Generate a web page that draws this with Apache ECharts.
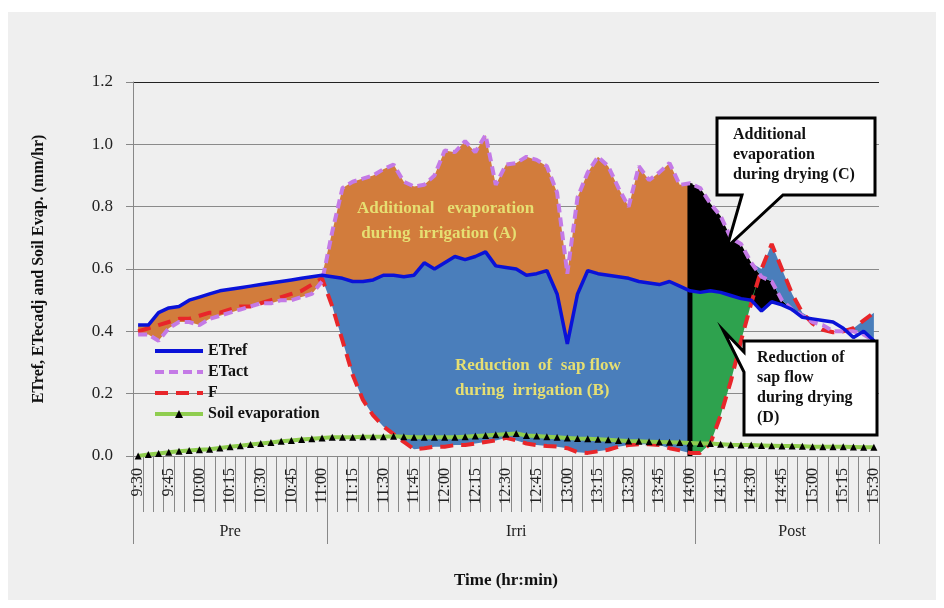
<!DOCTYPE html>
<html>
<head>
<meta charset="utf-8">
<script src="https://cdn.jsdelivr.net/npm/echarts@6/dist/echarts.min.js"></script>
<style>
  body { margin: 0; background: #ffffff; }
  #bg { position: absolute; left: 8px; top: 12px; width: 928px; height: 588px; background: #efefef; }
  #chart { position: absolute; left: 0; top: 0; width: 944px; height: 608px; }
</style>
</head>
<body>
<div id="bg"></div>
<div id="chart"></div>
<script>
// time axis, 5 min steps
const times = [
  '9:30','9:35','9:40','9:45','9:50','9:55','10:00','10:05','10:10','10:15','10:20','10:25','10:30','10:35','10:40','10:45','10:50','10:55','11:00',
  '11:05','11:10','11:15','11:20','11:25','11:30','11:35','11:40','11:45','11:50','11:55','12:00','12:05','12:10','12:15','12:20','12:25','12:30',
  '12:35','12:40','12:45','12:50','12:55','13:00','13:05','13:10','13:15','13:20','13:25','13:30','13:35','13:40','13:45','13:50','13:55','14:00',
  '14:05','14:10','14:15','14:20','14:25','14:30','14:35','14:40','14:45','14:50','14:55','15:00','15:05','15:10','15:15','15:20','15:25','15:30'
]

// phases
const phases = ['Pre', 'Irri', 'Post']
const phaseStart = [0, 19, 55]
const phaseEnd = [18, 54, 72]

// series (mm/hr)
const etRef = [
  0.42,0.42,0.46,0.475,0.48,0.50,0.51,0.52,0.53,0.535,0.54,0.545,0.55,0.555,0.56,0.565,0.57,0.575,0.58,
  0.575,0.57,0.56,0.56,0.565,0.58,0.58,0.575,0.58,0.62,0.60,0.62,0.64,0.63,0.64,0.655,0.61,0.605,
  0.60,0.58,0.585,0.595,0.52,0.36,0.52,0.595,0.585,0.58,0.575,0.57,0.56,0.555,0.55,0.56,0.545,0.53,
  0.525,0.53,0.525,0.515,0.505,0.50,0.465,0.495,0.485,0.47,0.445,0.44,0.435,0.43,0.41,0.38,0.40,0.37
]
const etAct = [
  0.39,0.39,0.37,0.41,0.43,0.43,0.42,0.44,0.45,0.46,0.47,0.48,0.49,0.49,0.50,0.50,0.51,0.52,0.56,
  0.72,0.86,0.88,0.89,0.90,0.92,0.935,0.88,0.865,0.87,0.90,0.98,0.975,1.01,0.975,1.03,0.87,0.935,
  0.94,0.96,0.95,0.93,0.845,0.585,0.83,0.91,0.96,0.93,0.86,0.80,0.93,0.885,0.91,0.94,0.87,0.875,
  0.86,0.81,0.77,0.70,0.68,0.62,0.575,0.56,0.50,0.47,0.45,0.43,0.42,0.40,0.40,0.40,0.39,0.37
]
const fFlow = [
  0.40,0.41,0.42,0.43,0.44,0.44,0.45,0.46,0.46,0.47,0.48,0.48,0.49,0.50,0.51,0.52,0.53,0.55,0.57,
  0.48,0.37,0.26,0.18,0.13,0.095,0.07,0.045,0.022,0.025,0.03,0.03,0.035,0.035,0.04,0.045,0.05,0.058,
  0.05,0.04,0.035,0.032,0.03,0.025,0.012,0.01,0.015,0.02,0.03,0.035,0.038,0.038,0.035,0.025,0.018,0.01,
  0.01,0.04,0.13,0.24,0.37,0.49,0.60,0.68,0.60,0.52,0.46,0.425,0.405,0.397,0.40,0.41,0.435,0.46
]
const soilEvap = [
  0.0,0.005,0.008,0.012,0.015,0.018,0.02,0.022,0.026,0.03,0.033,0.037,0.04,0.043,0.047,0.05,0.053,0.055,0.058,
  0.06,0.06,0.06,0.062,0.062,0.062,0.063,0.062,0.06,0.06,0.06,0.06,0.06,0.062,0.064,0.066,0.068,0.07,
  0.072,0.066,0.064,0.062,0.06,0.058,0.056,0.055,0.054,0.052,0.05,0.048,0.047,0.046,0.045,0.044,0.043,0.042,
  0.04,0.04,0.038,0.036,0.035,0.035,0.034,0.033,0.032,0.032,0.031,0.03,0.03,0.03,0.03,0.029,0.028,0.028
]

const serif = 'Liberation Serif'

// filled band between two curves (stacked: invisible base + coloured difference)
const band = (id, color, from, to, lower, upper) => {
  const base = [], diff = []
  times.forEach((t, i) => {
    if (i < from || i > to) { base.push(null); diff.push(null); return }
    const lo = lower(i), hi = upper(i)
    base.push(lo)
    diff.push(Math.max(0, +(hi - lo).toFixed(4)))
  })
  return [
    { name: id + '_base', type: 'line', stack: id, data: base, symbol: 'none', silent: true,
      lineStyle: { opacity: 0 }, z: 1 },
    { name: id, type: 'line', stack: id, data: diff, symbol: 'none', silent: true,
      lineStyle: { width: 0 }, areaStyle: { color: color, opacity: 1 }, z: 1 }
  ]
}

const irri = 1, post = 2
const bands = [
  // additional evaporation (A) + pre period
  ...band('orange', '#d27c3c', 0, phaseEnd[irri], i => Math.min(etRef[i], etAct[i]), i => Math.max(etRef[i], etAct[i])),
  // reduction of sap flow (B)
  ...band('blueIrri', '#4a7ebb', phaseStart[irri] - 1, phaseEnd[irri], i => fFlow[i], i => etRef[i]),
  // additional evaporation during drying (C)
  ...band('black', '#000000', phaseEnd[irri], 65, i => etRef[i], i => etAct[i]),
  // reduction of sap flow during drying (D)
  ...band('green', '#2ea24e', phaseEnd[irri], 61, i => fFlow[i], i => etRef[i]),
  // F above both in drying
  ...band('bluePost', '#4a7ebb', 60, phaseEnd[post], i => Math.max(etRef[i], etAct[i]), i => fFlow[i])
]

// vertical divider at the end of irrigation
const divider = times.map((t, i) => i === phaseEnd[irri] ? etAct[i] : null)

const chart = echarts.init(document.getElementById('chart'))

const noSymbol = { opacity: 0 }

const option = {
  animation: false,
  backgroundColor: 'transparent',
  grid: { left: 133, right: 65, top: 82, bottom: 152 },
  legend: {
    data: [
      { name: 'ETref', itemStyle: noSymbol, lineStyle: { width: 4 } },
      { name: 'ETact', itemStyle: noSymbol, lineStyle: { width: 4 } },
      { name: 'F', itemStyle: noSymbol, lineStyle: { width: 4 } },
      { name: 'Soil evaporation', lineStyle: { width: 4 } }
    ],
    orient: 'vertical',
    left: 148,
    top: 338,
    itemWidth: 48,
    itemHeight: 10,
    itemGap: 5,
    textStyle: { fontFamily: serif, fontWeight: 'bold', fontSize: 16, color: '#111' }
  },
  xAxis: [
    {
      type: 'category',
      data: times,
      axisLine: { lineStyle: { color: '#888' } },
      axisTick: { show: true, interval: 0, length: 56, lineStyle: { color: '#888' } },
      axisLabel: { interval: 2, rotate: 90, margin: 12, fontFamily: serif, fontSize: 16, color: '#222' }
    },
    {
      type: 'category',
      data: times,
      position: 'bottom',
      axisLine: { show: false },
      axisTick: {
        show: true,
        length: 88,
        interval: (i) => phaseStart.includes(i),
        lineStyle: { color: '#888' }
      },
      axisLabel: {
        interval: (i) => phaseStart.some((s, k) => i === Math.round((s + phaseEnd[k]) / 2)),
        formatter: (v, i) => {
          const k = phaseStart.findIndex((s, n) => i === Math.round((s + phaseEnd[n]) / 2))
          return k >= 0 ? phases[k] : ''
        },
        margin: 68,
        fontFamily: serif, fontSize: 16, color: '#222'
      },
      name: 'Time (hr:min)',
      nameLocation: 'middle',
      nameGap: 116,
      nameTextStyle: { fontFamily: serif, fontWeight: 'bold', fontSize: 17, color: '#111' }
    }
  ],
  yAxis: {
    type: 'value',
    min: 0,
    max: 1.2,
    interval: 0.2,
    name: 'ETref, ETecadj and Soil Evap. (mm/hr)',
    nameLocation: 'middle',
    nameGap: 86,
    nameTextStyle: { fontFamily: serif, fontWeight: 'bold', fontSize: 16, color: '#111' },
    axisLine: { show: true, lineStyle: { color: '#888' } },
    axisTick: { show: true, inside: false, length: 7, lineStyle: { color: '#888' } },
    axisLabel: { margin: 20, formatter: v => v.toFixed(1), fontFamily: serif, fontSize: 17, color: '#222' },
    splitLine: { lineStyle: { color: ['#8a8a8a', '#8a8a8a', '#8a8a8a', '#8a8a8a', '#8a8a8a', '#8a8a8a', '#222'], width: 1 } }
  },
  series: [
    ...bands,
    {
      name: 'divider', type: 'bar', data: divider, barWidth: 5, silent: true,
      itemStyle: { color: '#000' }, z: 2
    },
    {
      name: 'F', type: 'line', data: fFlow, symbol: 'none', z: 3,
      itemStyle: { color: '#e8262a' },
      lineStyle: { color: '#e8262a', width: 4, type: [13, 8] }
    },
    {
      name: 'ETact', type: 'line', data: etAct, symbol: 'none', z: 3,
      itemStyle: { color: '#c47ae6' },
      lineStyle: { color: '#c47ae6', width: 4, type: [9, 5] }
    },
    {
      name: 'ETref', type: 'line', data: etRef, symbol: 'none', z: 4,
      itemStyle: { color: '#0a12d8' },
      lineStyle: { color: '#0a12d8', width: 3.5 }
    },
    {
      name: 'Soil evaporation', type: 'line', data: soilEvap, z: 5,
      symbol: 'triangle', symbolSize: 7, showAllSymbol: true,
      itemStyle: { color: '#000' },
      lineStyle: { color: '#8fcd4f', width: 4 }
    }
  ],
  graphic: [
    {
      type: 'text', left: 357, top: 196, z: 50,
      style: {
        text: 'Additional   evaporation\n during  irrigation (A)',
        fill: '#e6df72', font: 'bold 17px "Liberation Serif"', lineHeight: 25
      }
    },
    {
      type: 'text', left: 455, top: 353, z: 50,
      style: {
        text: 'Reduction  of  sap flow\nduring  irrigation (B)',
        fill: '#e6df72', font: 'bold 17px "Liberation Serif"', lineHeight: 25
      }
    },
    {
      type: 'polygon', z: 60,
      shape: { points: [[717, 118], [875, 118], [875, 195], [783, 195], [727, 247], [742, 195], [717, 195]] },
      style: { fill: '#ffffff', stroke: '#000', lineWidth: 3 }
    },
    {
      type: 'text', left: 733, top: 125, z: 61,
      style: {
        text: 'Additional\nevaporation\nduring drying (C)',
        fill: '#111', font: 'bold 16px "Liberation Serif"', lineHeight: 20
      }
    },
    {
      type: 'polygon', z: 60,
      shape: { points: [[744, 341], [877, 341], [877, 435], [744, 435], [744, 372], [723, 330], [744, 352]] },
      style: { fill: '#ffffff', stroke: '#000', lineWidth: 3 }
    },
    {
      type: 'text', left: 757, top: 348, z: 61,
      style: {
        text: 'Reduction of\nsap flow\nduring drying\n(D)',
        fill: '#111', font: 'bold 16px "Liberation Serif"', lineHeight: 20
      }
    }
  ]
}

chart.setOption(option)
</script>
</body>
</html>
